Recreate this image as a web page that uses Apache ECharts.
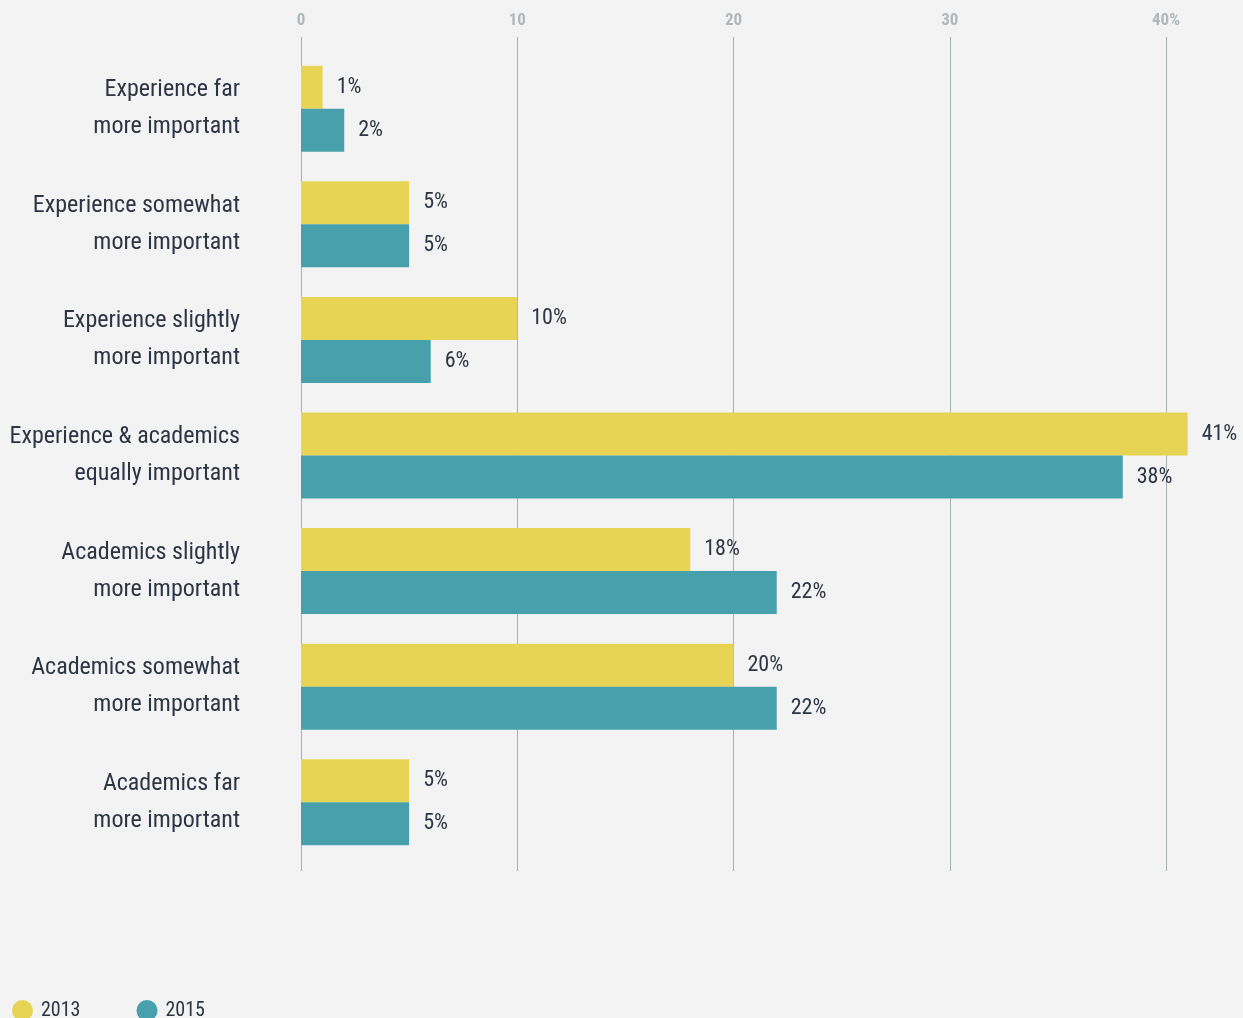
<!DOCTYPE html>
<html>
<head>
<meta charset="utf-8">
<script src="https://cdn.jsdelivr.net/npm/echarts@6/dist/echarts.min.js"></script>
<style>
  html, body { margin: 0; padding: 0; background: #f3f3f3; }
  #chart { width: 1243px; height: 1018px; }
</style>
</head>
<body>
<div id="chart"></div>
<script>
const categories = [
  'Experience far\nmore important',
  'Experience somewhat\nmore important',
  'Experience slightly\nmore important',
  'Experience & academics\nequally important',
  'Academics slightly\nmore important',
  'Academics somewhat\nmore important',
  'Academics far\nmore important'
]
const values2013 = [1, 5, 10, 41, 18, 20, 5]
const values2015 = [2, 5, 6, 38, 22, 22, 5]
const tickValues = [0, 10, 20, 30, 40]

const font = "'Roboto Condensed', 'Liberation Sans Narrow', Roboto, sans-serif"
const textColor = '#2d3443'
const palette = ['#e8d454', '#48a0ac']

const chart = echarts.init(document.getElementById('chart'))

const barLabel = {
  show: true,
  position: 'right',
  distance: 14,
  color: textColor,
  fontFamily: font,
  fontSize: 22,
  formatter: p => p.value + '%'
}

chart.setOption({
  backgroundColor: '#f3f3f3',
  color: palette,
  animation: false,
  legend: {
    left: 7,
    bottom: -8,
    icon: 'circle',
    itemWidth: 21,
    itemHeight: 21,
    itemGap: 56,
    textStyle: { color: textColor, fontFamily: font, fontSize: 20, padding: [0, 0, 0, 3] },
    data: ['2013', '2015']
  },
  grid: [
    { left: 301, width: 865, top: 51, height: 809, outerBoundsMode: 'none', containLabel: false },
    { left: 301, width: 865, top: 37, height: 834, outerBoundsMode: 'none', containLabel: false }
  ],
  xAxis: [
    {
      gridIndex: 0,
      type: 'value',
      min: 0,
      max: 40,
      interval: 10,
      show: false
    },
    {
      gridIndex: 1,
      type: 'value',
      position: 'top',
      min: tickValues[0],
      max: tickValues[tickValues.length - 1],
      interval: 10,
      axisLine: { show: false },
      axisTick: { show: false },
      axisLabel: {
        margin: 8,
        color: '#b0b8bb',
        fontFamily: font,
        fontWeight: 'bold',
        fontSize: 17,
        formatter: v => (v === 40 ? v + '%' : String(v))
      },
      splitLine: { lineStyle: { color: '#a9b0b0', width: 1 } }
    }
  ],
  yAxis: [
    {
      gridIndex: 0,
      type: 'category',
      inverse: true,
      data: categories,
      axisLine: { show: false },
      axisTick: { show: false },
      axisLabel: {
        margin: 61,
        color: textColor,
        fontFamily: font,
        fontSize: 24,
        lineHeight: 37,
        padding: [10, 0, 0, 0],
        align: 'right'
      }
    },
    {
      gridIndex: 1,
      type: 'category',
      show: false,
      data: categories
    }
  ],
  series: [
    {
      name: '2013',
      type: 'bar',
      xAxisIndex: 0,
      yAxisIndex: 0,
      data: values2013,
      barWidth: 43,
      barGap: '0%',
      clip: false,
      label: barLabel,
      z: 3
    },
    {
      name: '2015',
      type: 'bar',
      xAxisIndex: 0,
      yAxisIndex: 0,
      data: values2015,
      barWidth: 43,
      barGap: '0%',
      clip: false,
      label: barLabel,
      z: 3
    }
  ]
})
</script>
</body>
</html>
